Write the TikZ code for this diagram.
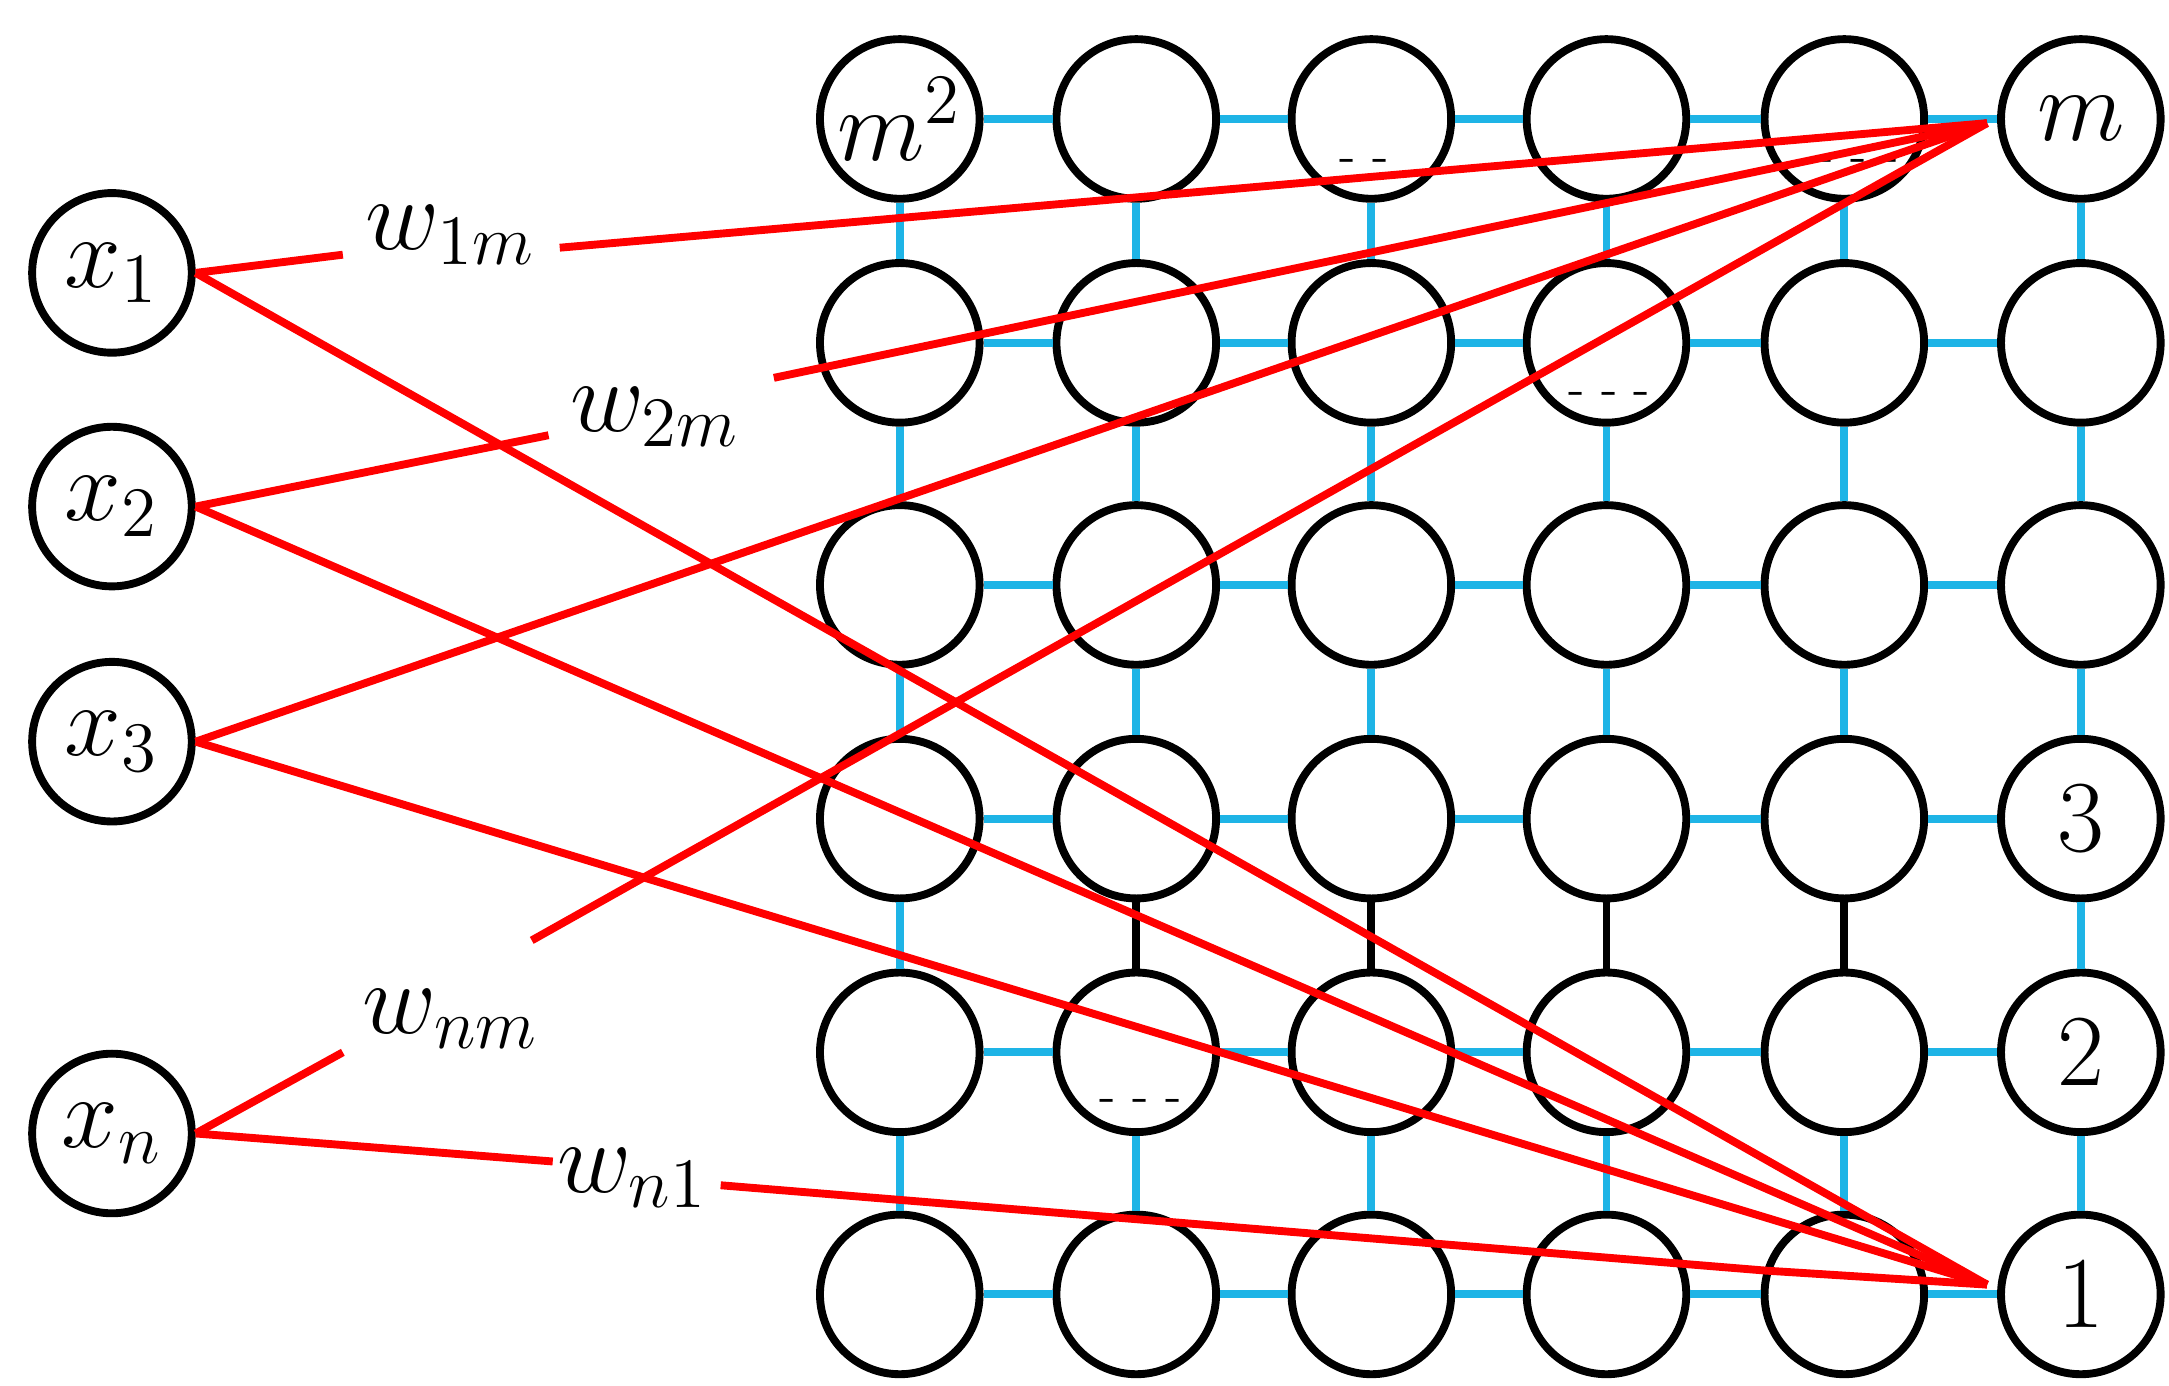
\documentclass[tikz,border=0pt]{standalone}
\begin{document}
\begin{tikzpicture}[x=0.01cm,y=-0.01cm,
  nd/.style={circle,draw=black,line width=1.6pt,minimum size=1.14cm,inner sep=0pt,font=\fontsize{22}{26}\selectfont},
  cy/.style={draw={rgb,255:red,30;green,180;blue,230},line width=1.6pt},
  bk/.style={draw=black,line width=1.6pt},
  rd/.style={draw=red,line width=1.6pt},
  lbl/.style={font=\fontsize{22}{26}\selectfont,inner sep=1pt},
  dsh/.style={font=\fontsize{10}{12}\selectfont,inner sep=0pt}]
\useasboundingbox (0,0) rectangle (1550,990);
% grid
\foreach \c/\x in {1/643,2/812,3/980,4/1148,5/1318,6/1487}
  \foreach \r/\y in {1/85,2/245,3/418,4/585,5/752,6/925}
    \node[nd] (g\c\r) at (\x,\y) {};
\node[lbl] at (g11) {$m^2$};
\node[lbl] at (g61) {$m$};
\node[lbl] at (g64) {$3$};
\node[lbl] at (g65) {$2$};
\node[lbl] at (g66) {$1$};
\foreach \r in {1,...,6}
  \foreach \a/\b in {1/2,2/3,3/4,4/5,5/6}
    \draw[cy] (g\a\r) -- (g\b\r);
\foreach \c in {1,...,6}
  \foreach \a/\b in {1/2,2/3,3/4,5/6}
    \draw[cy] (g\c\a) -- (g\c\b);
\foreach \c in {1,6} \draw[cy] (g\c4) -- (g\c5);
\foreach \c in {2,3,4,5} \draw[bk] (g\c4) -- (g\c5);
% dashes
\node[dsh] at (975,118) {- -};
\node[dsh] at (1328,118) {- - -};
\node[dsh] at (1150,285) {- - -};
\node[dsh] at (815,790) {- - -};
% inputs
\node[nd] (x1) at (80,195) {$x_1$};
\node[nd] (x2) at (80,362) {$x_2$};
\node[nd] (x3) at (80,530) {$x_3$};
\node[nd] (xn) at (80,810) {$x_n$};
% labels
\node[lbl] (w1m) at (322,168) {$w_{1m}$};
\node[lbl] (w2m) at (468,298) {$w_{2m}$};
\node[lbl] (wnm) at (322,728) {$w_{nm}$};
\node[lbl] (wn1) at (452,842) {$w_{n1}$};
\coordinate (pm) at (1420,88);
\coordinate (p1) at (1420,918);
\coordinate (a1) at (245,182);
\coordinate (b1) at (400,177);
\coordinate (a2) at (392,311);
\coordinate (b2) at (553,270);
\coordinate (bn) at (380,672);
\coordinate (an) at (245,752);
\coordinate (cn) at (395,830);
\coordinate (dn) at (515,847);
\coordinate (en) at (1262,908);
% red connections
\draw[rd] (x1.east) -- (a1);
\draw[rd] (b1) -- (pm);
\draw[rd] (x2.east) -- (a2);
\draw[rd] (b2) -- (pm);
\draw[rd] (x3.east) -- (pm);
\draw[rd] (bn) -- (pm);
\draw[rd] (xn.east) -- (an);
\draw[rd] (xn.east) -- (cn);
\draw[rd] (dn) -- (en) -- (p1);
\draw[rd] (x1.east) -- (p1);
\draw[rd] (x2.east) -- (p1);
\draw[rd] (x3.east) -- (p1);
\end{tikzpicture}
\end{document}
